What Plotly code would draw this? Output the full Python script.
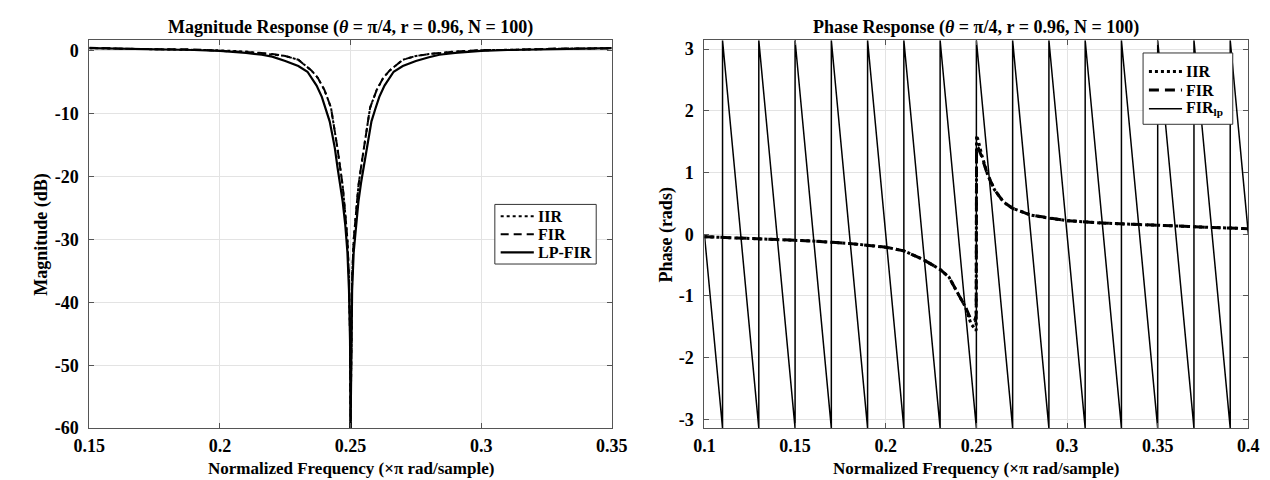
import plotly.graph_objects as go

# ---------------- Magnitude response data ----------------
iir_f = [0.15, 0.17, 0.19, 0.20, 0.21, 0.215, 0.22, 0.225, 0.23, 0.235, 0.2375, 0.24,
         0.2425, 0.243, 0.244, 0.245, 0.246, 0.247, 0.248, 0.2488, 0.2494, 0.2498, 0.25,
         0.2502, 0.2506, 0.2512, 0.252, 0.253, 0.254, 0.255, 0.256, 0.257, 0.2575, 0.26,
         0.2625, 0.265, 0.27, 0.275, 0.28, 0.285, 0.29, 0.30, 0.31, 0.33, 0.35]
iir_db = [0.45, 0.35, 0.2, 0.1, -0.1, -0.3, -0.5, -0.8, -1.4, -3.1, -4.3, -6.2,
          -9.0, -10.3, -12.5, -15.5, -18.5, -21.5, -26.0, -30.0, -36.0, -45.0, -60.0,
          -45.0, -36.0, -30.0, -26.0, -21.5, -18.5, -15.5, -12.5, -10.3, -9.0, -6.2,
          -4.3, -3.1, -1.4, -0.8, -0.5, -0.3, -0.1, 0.1, 0.2, 0.35, 0.45]
fir_db = [0.5, 0.3, 0.25, 0.05, -0.1, -0.3, -0.5, -0.8, -1.4, -3.1, -4.3, -6.2,
          -9.0, -10.3, -12.5, -15.5, -18.5, -21.5, -26.0, -30.0, -36.0, -45.0, -60.0,
          -45.0, -36.0, -30.0, -26.0, -21.5, -18.5, -15.5, -12.5, -10.3, -9.0, -6.2,
          -4.3, -3.1, -1.4, -0.8, -0.5, -0.3, -0.1, 0.15, 0.15, 0.4, 0.4]

lp_f = [0.15, 0.17, 0.19, 0.20, 0.21, 0.216, 0.22, 0.225, 0.23, 0.2335, 0.235, 0.237,
        0.239, 0.2405, 0.242, 0.243, 0.244, 0.245, 0.246, 0.247, 0.248, 0.2488, 0.2494,
        0.2498, 0.25, 0.2502, 0.2506, 0.2512, 0.252, 0.253, 0.254, 0.255, 0.256, 0.257,
        0.258, 0.2595, 0.261, 0.263, 0.265, 0.2665, 0.27, 0.275, 0.28, 0.284, 0.29,
        0.30, 0.31, 0.33, 0.35]
lp_db = [0.45, 0.35, 0.15, 0.0, -0.3, -0.6, -0.9, -1.6, -2.4, -3.3, -4.2, -5.5,
         -7.3, -9.2, -11.2, -13.3, -15.5, -18.5, -21.0, -24.0, -27.8, -32.0, -38.0,
         -46.0, -60.0, -46.0, -38.0, -32.0, -27.8, -24.0, -21.0, -18.5, -15.5, -13.3,
         -11.2, -9.2, -7.3, -5.5, -4.2, -3.3, -2.4, -1.6, -1.0, -0.6, -0.3,
         0.0, 0.15, 0.35, 0.45]

# ---------------- Phase response data ----------------
ph_f = [0.10, 0.12, 0.14, 0.16, 0.18, 0.20, 0.21, 0.22, 0.23, 0.235, 0.24, 0.244,
        0.247, 0.249, 0.2499, 0.2501, 0.251, 0.253, 0.256, 0.26, 0.265, 0.27, 0.28,
        0.29, 0.30, 0.32, 0.35, 0.38, 0.40]
iir_ph = [-0.04, -0.06, -0.08, -0.11, -0.15, -0.21, -0.27, -0.40, -0.57, -0.70, -0.97, -1.18,
          -1.45, -1.53, -1.56, 1.60, 1.52, 1.28, 0.98, 0.72, 0.52, 0.42, 0.31,
          0.26, 0.22, 0.18, 0.14, 0.11, 0.09]
fir_ph = [-0.04, -0.06, -0.08, -0.11, -0.15, -0.21, -0.27, -0.40, -0.57, -0.70, -0.97, -1.18,
          -1.38, -1.40, -1.32, 1.42, 1.40, 1.25, 0.98, 0.72, 0.52, 0.42, 0.31,
          0.26, 0.22, 0.18, 0.14, 0.11, 0.09]

firlp_f = [0.10, 0.11, 0.11, 0.13, 0.13, 0.15, 0.15, 0.17, 0.17, 0.19, 0.19, 0.21, 0.21,
           0.23, 0.23, 0.25, 0.25, 0.27, 0.27, 0.29, 0.29, 0.31, 0.31, 0.33, 0.33,
           0.35, 0.35, 0.37, 0.37, 0.39, 0.39, 0.40]
firlp_ph = [0.0, -3.1416, 3.1416, -3.1416, 3.1416, -3.1416, 3.1416, -3.1416, 3.1416,
            -3.1416, 3.1416, -3.1416, 3.1416, -3.1416, 3.1416, -3.1416, 3.1416,
            -3.1416, 3.1416, -3.1416, 3.1416, -3.1416, 3.1416, -3.1416, 3.1416,
            -3.1416, 3.1416, -3.1416, 3.1416, -3.1416, 3.1416, 0.0]

mag_xticks = [0.15, 0.2, 0.25, 0.3, 0.35]
mag_xlabels = ["0.15", "0.2", "0.25", "0.3", "0.35"]
mag_yticks = [0, -10, -20, -30, -40, -50, -60]
mag_ylabels = ["0", "-10", "-20", "-30", "-40", "-50", "-60"]
ph_xticks = [0.1, 0.15, 0.2, 0.25, 0.3, 0.35, 0.4]
ph_xlabels = ["0.1", "0.15", "0.2", "0.25", "0.3", "0.35", "0.4"]
ph_yticks = [-3, -2, -1, 0, 1, 2, 3]
ph_ylabels = ["-3", "-2", "-1", "0", "1", "2", "3"]

mag_legend = ["IIR", "FIR", "LP-FIR"]
ph_legend = ["IIR", "FIR", "FIR<sub>lp</sub>"]

FONT = "Liberation Serif"
W, H = 1270, 480

mag_styles = [dict(width=2, dash="dot"), dict(width=2, dash="8px,5px"), dict(width=2.2, dash="solid")]
ph_styles = [dict(width=3, dash="dot"), dict(width=3, dash="10px,6px"), dict(width=1.5, dash="solid")]

fig = go.Figure()

# Magnitude
for ys, xs, st, nm in [(iir_db, iir_f, mag_styles[0], mag_legend[0]),
                       (fir_db, iir_f, mag_styles[1], mag_legend[1]),
                       (lp_db, lp_f, mag_styles[2], mag_legend[2])]:
    fig.add_trace(go.Scatter(x=xs, y=ys, mode="lines", name=nm, showlegend=False,
                             line=dict(color="black", **st), xaxis="x", yaxis="y"))

# Phase
for ys, xs, st, nm in [(iir_ph, ph_f, ph_styles[0], ph_legend[0]),
                       (fir_ph, ph_f, ph_styles[1], ph_legend[1]),
                       (firlp_ph, firlp_f, ph_styles[2], ph_legend[2])]:
    fig.add_trace(go.Scatter(x=xs, y=ys, mode="lines", name=nm, showlegend=False,
                             line=dict(color="black", **st), xaxis="x2", yaxis="y2"))

tickfont = dict(family=FONT, size=18, color="black", weight="bold")
axis_common = dict(showline=True, linecolor="#555555", linewidth=1, mirror="ticks",
                   ticks="inside", ticklen=5, tickcolor="#555555",
                   showgrid=True, gridcolor="#e3e3e3", gridwidth=1,
                   zeroline=False, tickfont=tickfont)

yd = [1 - 429 / H, 1 - 32 / H]

fig.update_layout(
    width=W, height=H,
    margin=dict(l=0, r=0, t=0, b=0),
    paper_bgcolor="white", plot_bgcolor="white",
    showlegend=False,
    xaxis=dict(domain=[67 / W, 603 / W], range=[0.15, 0.35], anchor="y",
               tickvals=mag_xticks, ticktext=mag_xlabels, ticklabelstandoff=1, **axis_common),
    yaxis=dict(domain=yd, range=[-60, 1.7], anchor="x",
               tickvals=mag_yticks, ticktext=mag_ylabels, ticklabelstandoff=6, **axis_common),
    xaxis2=dict(domain=[698 / W, 1256 / W], range=[0.1, 0.4], anchor="y2",
                tickvals=ph_xticks, ticktext=ph_xlabels, ticklabelstandoff=1, **axis_common),
    yaxis2=dict(domain=yd, range=[-3.14159, 3.14159], anchor="x2",
                tickvals=ph_yticks, ticktext=ph_ylabels, ticklabelstandoff=6, **axis_common),
)


def px(x):
    return x / W


def py(y):
    return 1 - y / H


def add_legend(box, rows, names, styles, line_x, text_x):
    x0, y0, x1, y1 = box
    fig.add_shape(type="rect", xref="paper", yref="paper",
                  x0=px(x0), x1=px(x1), y0=py(y1), y1=py(y0),
                  line=dict(color="#333333", width=1), fillcolor="white", layer="above")
    for yc, nm, st in zip(rows, names, styles):
        fig.add_shape(type="line", xref="paper", yref="paper",
                      x0=px(line_x[0]), x1=px(line_x[1]), y0=py(yc), y1=py(yc),
                      line=dict(color="black", **st), layer="above")
        fig.add_annotation(text="<b>" + nm + "</b>", x=px(text_x), y=py(yc),
                           xref="paper", yref="paper", xanchor="left", yanchor="middle",
                           showarrow=False,
                           font=dict(family=FONT, size=16, color="black"))


add_legend((483, 200, 587, 261), [212, 230.5, 249], mag_legend, mag_styles, (489, 523), 525)
add_legend((1148, 45, 1240, 118), [64, 83, 102], ph_legend, ph_styles, (1154, 1188), 1190)

ann = [
    ("<b>Magnitude Response (<i>θ</i> = π/4, r = 0.96, N = 100)</b>", 335, 19, 0, 18),
    ("<b>Phase Response (<i>θ</i> = π/4, r = 0.96, N = 100)</b>", 977, 19, 0, 18),
    ("<b>Normalized Frequency (×π rad/sample)</b>", 335, 470, 0, 17),
    ("<b>Normalized Frequency (×π rad/sample)</b>", 977, 470, 0, 17),
    ("<b>Magnitude (dB)</b>", 18, 230.5, -90, 18),
    ("<b>Phase (rads)</b>", 659, 230.5, -90, 18),
]
for text, x, y, ang, sz in ann:
    fig.add_annotation(text=text, x=px(x), y=py(y), xref="paper", yref="paper",
                       xanchor="center", yanchor="middle", showarrow=False,
                       textangle=ang,
                       font=dict(family=FONT, size=sz, color="black"))

fig.write_html("out.html")
